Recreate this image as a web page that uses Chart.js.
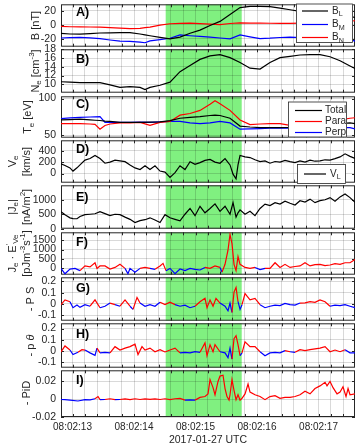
<!DOCTYPE html>
<html>
<head>
<meta charset="utf-8">
<script src="https://cdn.jsdelivr.net/npm/chart.js@4"></script>
<style>
  html, body { margin: 0; padding: 0; background: #fff; }
  #wrap { position: relative; width: 357px; height: 446px; overflow: hidden; }
  canvas { position: absolute; left: 0; }
</style>
</head>
<body>
<div id="wrap"></div>
<script>
// time in seconds after 08:02:00 UTC
const T_MIN = 12.813, T_MAX = 17.593;
const SHADE = [14.515, 15.751];
const majorSeconds = [13, 14, 15, 16, 17];
const timeLabels = ['08:02:13', '08:02:14', '08:02:15', '08:02:16', '08:02:17'];

// A) magnetic field, B) density
const tA = [12.813, 12.959, 13.122, 13.285, 13.447, 13.610, 13.772, 13.935, 14.098, 14.179, 14.260, 14.423, 14.585, 14.748, 14.911, 15.073, 15.236, 15.398, 15.561, 15.724, 15.886, 16.049, 16.211, 16.374, 16.537, 16.699, 16.862, 17.024, 17.187, 17.350, 17.512, 17.593];
const BL = [-12, -13, -13.3, -12.5, -11.6, -11.4, -11.2, -11.2, -13, -14.3, -15.5, -17.8, -20, -17.4, -12, -7.6, -1, 4.8, 14.7, 24.4, 26, 26, 25.7, 23.5, 21.3, 19, 17, 15.5, 14.5, 13.5, 12.4, 10];
const BM = [-18.7, -18.2, -17.8, -18.5, -19.6, -21.5, -23.2, -23.5, -24.5, -25.4, -22.7, -21, -19, -14.3, -15.5, -16.5, -17.5, -18.7, -20, -14.3, -17, -19.6, -19, -18, -17.4, -18, -19, -19.5, -20, -20.5, -21, -23.2];
const BN = [-2.3, -2.8, -3, -3.1, -3.2, -4, -4.8, -5.3, -5, -4, -3.2, -0.5, 1.5, 2.1, 2.3, 1.7, 1, 0.3, 1.8, 2.7, 2.5, 2.3, 2.2, 2.1, 2, 2.3, 2.8, 3.3, 4, 4.6, 5.3, 5.7];
const Ne = [10.6, 10.5, 10.4, 10.4, 10.4, 9.9, 9.3, 9.5, 9.3, 8.8, 9.3, 9.8, 10.5, 12.9, 14.3, 15.7, 16.5, 16.8, 16.1, 15, 13.7, 13.5, 15, 16.1, 16.4, 16.7, 16.8, 16.8, 16.3, 15.4, 14.2, 13.6];

// C) temperature
const tC = [12.813, 12.959, 13.122, 13.285, 13.366, 13.447, 13.528, 13.610, 13.772, 13.935, 14.098, 14.260, 14.423, 14.585, 14.748, 14.911, 15.073, 15.236, 15.317, 15.398, 15.561, 15.724, 15.886, 16.049, 16.211, 16.374, 16.537, 16.699, 16.862, 17.024, 17.187, 17.350, 17.512, 17.593];
const TeTotal = [71.2, 71.5, 72, 71, 70.6, 70.3, 69.5, 69, 67.8, 67.8, 67.8, 68, 68.5, 70, 73.3, 74.5, 75.4, 77, 77.5, 77, 73.3, 62.7, 61.5, 60.6, 60.6, 60.6, 61, 62, 63, 64, 65, 66, 67, 66];
const TePara = [66.1, 66, 66.1, 65.5, 65, 58.5, 63.6, 65.5, 67, 67, 67.8, 63.6, 67.8, 69, 77.5, 79.7, 83.9, 92.4, 97, 93, 84, 71, 64.8, 65.5, 66, 66, 63.6, 65, 67, 69, 70, 71, 73.3, 74];
const TePerp = [72.9, 73.8, 74.6, 75, 75.2, 75.4, 67.8, 67.8, 67.8, 67.8, 68, 67.8, 68.5, 69, 69, 67, 66, 67, 68, 69, 67, 58.5, 59, 59.4, 59.8, 60, 60, 60, 60.2, 60.3, 60.4, 60.5, 60.6, 59];

// D) velocity, E) current density
const tD = [12.813, 12.878, 12.959, 13.008, 13.073, 13.122, 13.203, 13.285, 13.366, 13.447, 13.528, 13.610, 13.691, 13.772, 13.854, 13.935, 14.016, 14.098, 14.179, 14.260, 14.341, 14.423, 14.504, 14.585, 14.667, 14.748, 14.829, 14.911, 14.992, 15.073, 15.154, 15.236, 15.317, 15.398, 15.480, 15.561, 15.610, 15.659, 15.691, 15.724, 15.805, 15.886, 15.967, 16.049, 16.130, 16.211, 16.293, 16.374, 16.455, 16.537, 16.618, 16.699, 16.780, 16.862, 16.943, 17.024, 17.106, 17.187, 17.268, 17.350, 17.431, 17.512, 17.593];
const VL = [169, 140, 98, 43, 100, 152, 234, 262, 316, 262, 180, 200, 234, 220, 207, 150, 98, 70, 136, 70, 136, 43, 26, -66, 16, 136, 70, 207, 160, 190, 230, 246, 200, 180, 262, 150, -11, -93, 150, 316, 290, 279, 240, 207, 220, 180, 210, 200, 230, 207, 190, 220, 200, 234, 215, 220, 240, 234, 260, 290, 344, 300, 262];
const JeMag = [590, 480, 376, 350, 344, 420, 484, 500, 516, 590, 520, 451, 500, 484, 400, 323, 215, 280, 311, 376, 300, 215, 484, 376, 323, 269, 500, 700, 450, 774, 550, 700, 860, 600, 774, 500, 900, 400, 550, 650, 500, 600, 450, 700, 850, 800, 900, 850, 950, 880, 820, 968, 920, 1022, 900, 968, 1000, 1075, 950, 1100, 1200, 1075, 913];

// F) J.E'
const tF = [12.813, 12.878, 12.959, 13.041, 13.122, 13.203, 13.285, 13.366, 13.398, 13.447, 13.528, 13.610, 13.691, 13.772, 13.854, 13.902, 13.935, 14.016, 14.098, 14.179, 14.260, 14.341, 14.423, 14.472, 14.520, 14.585, 14.667, 14.748, 14.829, 14.911, 14.992, 15.073, 15.154, 15.236, 15.317, 15.398, 15.431, 15.480, 15.528, 15.561, 15.593, 15.626, 15.659, 15.691, 15.724, 15.805, 15.886, 15.967, 16.049, 16.130, 16.211, 16.293, 16.374, 16.455, 16.537, 16.618, 16.699, 16.780, 16.862, 16.943, 17.024, 17.106, 17.187, 17.268, 17.350, 17.431, 17.512, 17.593];
const JdotE = [0, -285, -35, 0, -120, 130, 80, 300, 0, 130, 130, -35, 50, 215, 0, -285, 0, -200, 0, 50, 0, -50, 130, 265, -120, 0, -285, -35, -120, 0, -50, -85, 50, 0, 130, 50, -200, 215, 965, 1800, 1315, 215, -120, 630, 215, 50, 0, 50, -65, 0, 0, 300, 50, 215, 50, 100, 130, 300, 130, 200, 215, 150, 180, 250, 215, 300, 300, 465];

// G) -P S
const tG = [12.813, 12.878, 12.959, 13.008, 13.073, 13.122, 13.203, 13.285, 13.366, 13.447, 13.528, 13.610, 13.691, 13.772, 13.854, 13.935, 13.984, 14.049, 14.098, 14.179, 14.260, 14.341, 14.423, 14.504, 14.585, 14.667, 14.748, 14.829, 14.911, 14.992, 15.073, 15.154, 15.187, 15.236, 15.285, 15.333, 15.398, 15.480, 15.528, 15.561, 15.593, 15.626, 15.659, 15.691, 15.724, 15.756, 15.805, 15.886, 15.967, 16.049, 16.130, 16.211, 16.293, 16.374, 16.455, 16.537, 16.618, 16.699, 16.780, 16.862, 16.943, 17.024, 17.106, 17.187, 17.268, 17.350, 17.431, 17.512, 17.593];
const PS = [-0.006, 0.036, 0.02, -0.033, -0.01, -0.03, -0.006, -0.02, 0.036, -0.033, -0.02, 0.008, -0.006, -0.02, 0.036, -0.02, -0.048, 0.058, 0.008, -0.02, -0.006, -0.02, 0.016, -0.006, 0.016, -0.006, -0.02, -0.01, -0.033, -0.02, 0.02, 0.05, -0.033, 0.036, -0.02, 0.05, 0.008, -0.02, -0.06, 0.008, -0.075, 0.105, 0.147, 0.02, -0.048, -0.006, 0.092, 0.036, 0.05, -0.006, -0.033, -0.02, -0.01, -0.015, 0.005, -0.006, -0.01, 0.008, 0.01, 0.02, 0.015, 0.036, 0.02, -0.02, -0.01, -0.015, -0.006, -0.02, -0.033];

// H) -p theta
const tH = [12.813, 12.878, 12.959, 13.008, 13.089, 13.154, 13.203, 13.285, 13.366, 13.398, 13.447, 13.528, 13.610, 13.691, 13.772, 13.854, 13.935, 14.016, 14.065, 14.130, 14.179, 14.260, 14.341, 14.423, 14.504, 14.585, 14.667, 14.748, 14.829, 14.911, 14.992, 15.073, 15.154, 15.187, 15.236, 15.285, 15.317, 15.398, 15.480, 15.528, 15.561, 15.593, 15.626, 15.659, 15.691, 15.724, 15.756, 15.805, 15.886, 15.967, 16.049, 16.130, 16.211, 16.293, 16.374, 16.455, 16.537, 16.618, 16.699, 16.780, 16.862, 16.943, 17.024, 17.106, 17.187, 17.268, 17.350, 17.431, 17.512, 17.593];
const PTheta = [-0.007, 0.046, 0.01, -0.03, -0.01, 0.013, 0.01, -0.015, -0.037, 0.027, -0.015, -0.01, -0.015, 0.04, 0.01, 0.027, 0.04, 0.062, -0.03, 0.04, 0.01, 0.027, -0.005, 0.013, -0.007, 0.01, 0.027, -0.015, -0.01, -0.015, -0.005, -0.01, 0.073, -0.04, 0.057, -0.005, 0.057, -0.005, -0.015, -0.057, 0.027, -0.07, 0.11, 0.137, 0.057, -0.04, -0.015, 0.082, 0.04, 0.04, -0.005, -0.04, -0.015, -0.01, -0.015, 0.005, -0.005, -0.01, 0.013, 0.005, 0.013, 0.02, 0.027, 0.04, -0.005, 0.01, -0.005, 0.013, -0.015, -0.015];

// I) -PiD
const tI = [12.813, 12.878, 12.959, 13.089, 13.203, 13.285, 13.366, 13.415, 13.447, 13.528, 13.610, 13.691, 13.772, 13.854, 13.935, 14.016, 14.098, 14.179, 14.260, 14.341, 14.423, 14.504, 14.585, 14.667, 14.748, 14.829, 14.911, 14.992, 15.073, 15.154, 15.203, 15.236, 15.285, 15.317, 15.366, 15.398, 15.447, 15.480, 15.512, 15.545, 15.561, 15.593, 15.626, 15.659, 15.691, 15.724, 15.756, 15.805, 15.854, 15.886, 15.967, 16.049, 16.130, 16.211, 16.293, 16.374, 16.455, 16.537, 16.618, 16.699, 16.780, 16.862, 16.943, 17.024, 17.106, 17.138, 17.187, 17.236, 17.301, 17.350, 17.398, 17.447, 17.480, 17.512, 17.593];
const PiD = [-0.0003, -0.0005, -0.001, -0.002, -0.0005, -0.0008, 0.0005, 0.003, -0.0005, -0.0003, 0.0005, -0.0005, -0.0003, 0.0004, -0.0004, 0.0005, -0.0003, 0.0004, -0.0002, 0.0004, -0.0003, 0.0005, -0.0004, 0.0005, 0.001, -0.001, -0.0008, -0.001, 0.002, 0.003, 0.006, 0.022, 0.013, 0.005, 0.02, 0.026, 0.027, 0.012, 0.003, -0.001, 0.005, 0.022, 0.01, -0.0005, 0.005, -0.001, 0.001, 0.006, 0.017, 0.008, 0.005, 0.003, -0.0005, 0.003, 0.004, 0.001, 0.002, 0.002, 0.003, 0.005, 0.009, 0.006, 0.012, 0.015, 0.019, 0.015, 0.02, 0.013, 0.006, 0.008, 0.014, 0.003, 0.012, 0.005, 0.006];

// y tick labels per panel
const yTicksA = [-20, 0, 20];
const yTicksB = [10, 12, 14, 16, 18];
const yTicksC = [50, 100];
const yTicksD = [0, 200, 400];
const yTicksE = [0, 500, 1000];
const yTicksF = [0, 500, 1000, 1500];
const yTicksG = [-0.1, 0, 0.1, 0.2];
const yTicksH = [-0.1, 0, 0.1, 0.2];
const yTicksI = [-0.02, 0, 0.02];

const FONT = "'Liberation Sans', Arial, Helvetica, sans-serif";
const INK = '#262626';
const GRID = 'rgba(0,0,0,0.15)';
const GREEN = '#80f080';
const RED = '#ff0000', BLUE = '#0000ff', BLACK = '#000000';
const PAD = 10;

const pts = (t, v) => t.map((x, i) => ({ x: x, y: v[i] }));
const signColor = c => ((c.p0.parsed.y + c.p1.parsed.y) / 2 >= 0 ? RED : BLUE);

const minorTicks = [];
for (let v = 13.0; v <= T_MAX + 1e-9; v += 0.2) minorTicks.push(Math.round(v * 10) / 10);

const panels = [
  { top: 3, bottom: 48, min: -31, max: 29, ticks: yTicksA, letter: 'A)', letterY: 13,
    title: [[['B [nT]', '']]], titleX: [35.5],
    series: [{ t: tA, v: BL, color: BLACK }, { t: tA, v: BM, color: BLUE }, { t: tA, v: BN, color: RED }],
    legend: { box: [296, 3.5, 353, 43], lineX: [302, 328], textX: 332,
      rows: [{ y: 11, color: BLACK, parts: [['B', ''], ['L', 'b']] },
             { y: 24.5, color: BLUE, parts: [['B', ''], ['M', 'b']] },
             { y: 37.5, color: RED, parts: [['B', ''], ['N', 'b']] }] } },
  { top: 48, bottom: 94, min: 8.1, max: 18, ticks: yTicksB, letter: 'B)', letterY: 60,
    title: [[['N', ''], ['e', 'b'], [' [cm', ''], ['-3', 'p'], [']', '']]], titleX: [35.5],
    series: [{ t: tA, v: Ne, color: BLACK }] },
  { top: 95, bottom: 139, min: 47, max: 103, ticks: yTicksC, letter: 'C)', letterY: 105,
    title: [[['T', ''], ['e', 'b'], [' [eV]', '']]], titleX: [28],
    series: [{ t: tC, v: TeTotal, color: BLACK }, { t: tC, v: TePara, color: RED }, { t: tC, v: TePerp, color: BLUE }],
    legend: { box: [288, 101.5, 347, 137.5], lineX: [295, 322], textX: 325,
      rows: [{ y: 110.5, color: BLACK, parts: [['Total', '']] },
             { y: 121.5, color: RED, parts: [['Para', '']] },
             { y: 132.5, color: BLUE, parts: [['Perp', '']] }] } },
  { top: 139, bottom: 184, min: -160, max: 580, ticks: yTicksD, letter: 'D)', letterY: 150,
    title: [[['V', ''], ['e', 'b']], [['[km/s]', '']]], titleX: [12.5, 27],
    series: [{ t: tD, v: VL, color: BLACK }],
    legend: { box: [297, 164, 346, 184], lineX: [304, 326], textX: 330,
      rows: [{ y: 174, color: BLACK, parts: [['V', ''], ['L', 'b']] }] } },
  { top: 184, bottom: 230, min: 0, max: 1500, ticks: yTicksE, letter: 'E)', letterY: 198,
    title: [[['|J', ''], ['e', 'b'], ['|', '']], [['[nA/m', ''], ['2', 'p'], [']', '']]], titleX: [12.5, 27],
    series: [{ t: tD, v: JeMag, color: BLACK }] },
  { top: 231, bottom: 276, min: -335, max: 1915, ticks: yTicksF, letter: 'F)', letterY: 243,
    title: [[['J', ''], ['e', 'b'], [' \u00b7 E', ''], ["'", 'p'], ['Ve', 'b']], [['[pJm', ''], ['-3', 'p'], ['s', ''], ['-1', 'p'], [']', '']]], titleX: [12.5, 27],
    series: [{ t: tF, v: JdotE, sign: true }] },
  { top: 276, bottom: 322, min: -0.148, max: 0.236, ticks: yTicksG, letter: 'G)', letterY: 288.5,
    title: [[['- P S', '']]], titleX: [31],
    series: [{ t: tG, v: PS, sign: true }] },
  { top: 322, bottom: 369, min: -0.146, max: 0.246, ticks: yTicksH, letter: 'H)', letterY: 334.5,
    title: [[['- p ', ''], ['\u03b8', 'i']]], titleX: [31],
    series: [{ t: tH, v: PTheta, sign: true }] },
  { top: 369, bottom: 417, min: -0.02, max: 0.0325, ticks: yTicksI, letter: 'I)', letterY: 381,
    title: [[['- PiD', '']]], titleX: [27],
    series: [{ t: tI, v: PiD, sign: true }] }
];

function drawRich(ctx, parts, x, y, size, align, rotate) {
  const fontOf = m => (m === 'i' ? 'italic ' : '') + ((m === 'b' || m === 'p') ? size * 0.72 : size) + 'px ' + FONT;
  ctx.save();
  ctx.translate(x, y);
  if (rotate) ctx.rotate(-Math.PI / 2);
  ctx.textBaseline = 'middle';
  ctx.textAlign = 'left';
  ctx.fillStyle = INK;
  let w = 0;
  for (const [s, m] of parts) { ctx.font = fontOf(m); w += ctx.measureText(s).width; }
  let cx = align === 'center' ? -w / 2 : 0;
  for (const [s, m] of parts) {
    ctx.font = fontOf(m);
    const dy = m === 'b' ? size * 0.32 : (m === 'p' ? -size * 0.36 : 0);
    ctx.fillText(s, cx, dy);
    cx += ctx.measureText(s).width;
  }
  ctx.restore();
}

function decoPlugin(p, off) {
  return {
    id: 'deco',
    beforeDraw(chart) {
      const { ctx, chartArea: a, scales: { x } } = chart;
      const x0 = x.getPixelForValue(SHADE[0]), x1 = x.getPixelForValue(SHADE[1]);
      ctx.save();
      ctx.fillStyle = GREEN;
      ctx.fillRect(x0, a.top, x1 - x0, a.bottom - a.top);
      ctx.restore();
    },
    beforeDatasetsDraw(chart) {
      const { ctx, chartArea: a, scales: { x, y } } = chart;
      ctx.save();
      ctx.strokeStyle = INK;
      ctx.lineWidth = 1;
      ctx.beginPath();
      for (const t of x.ticks) {
        const px = Math.round(x.getPixelForValue(t.value)) + 0.5;
        ctx.moveTo(px, a.top); ctx.lineTo(px, a.top + 3);
        ctx.moveTo(px, a.bottom); ctx.lineTo(px, a.bottom - 3);
      }
      for (const t of y.ticks) {
        const py = Math.round(y.getPixelForValue(t.value)) + 0.5;
        ctx.moveTo(a.left, py); ctx.lineTo(a.left + 3, py);
        ctx.moveTo(a.right, py); ctx.lineTo(a.right - 3, py);
      }
      ctx.stroke();
      ctx.strokeRect(a.left + 0.5, a.top + 0.5, a.right - a.left - 1, a.bottom - a.top - 1);
      ctx.restore();
    },
    afterDatasetsDraw(chart) {
      const ctx = chart.ctx;
      ctx.save();
      if (p.legend) {
        const L = p.legend;
        ctx.fillStyle = '#fff';
        ctx.fillRect(L.box[0], L.box[1] - off, L.box[2] - L.box[0], L.box[3] - L.box[1]);
        ctx.strokeStyle = INK;
        ctx.lineWidth = 0.8;
        ctx.strokeRect(L.box[0] + 0.5, L.box[1] - off + 0.5, L.box[2] - L.box[0] - 1, L.box[3] - L.box[1] - 1);
        for (const r of L.rows) {
          ctx.strokeStyle = r.color;
          ctx.lineWidth = 1.2;
          ctx.beginPath();
          ctx.moveTo(L.lineX[0], r.y - off);
          ctx.lineTo(L.lineX[1], r.y - off);
          ctx.stroke();
          drawRich(ctx, r.parts, L.textX, r.y - off, 10, 'left', false);
        }
      }
      ctx.fillStyle = '#000';
      ctx.font = 'bold 12.5px ' + FONT;
      ctx.textBaseline = 'middle';
      ctx.textAlign = 'left';
      ctx.fillText(p.letter, 76, p.letterY - off);
      ctx.restore();
    },
    afterDraw(chart) {
      const ctx = chart.ctx;
      const cy = (p.top + p.bottom) / 2 - off;
      p.title.forEach((line, i) => drawRich(ctx, line, p.titleX[i], cy, 11, 'center', true));
    }
  };
}

const wrap = document.getElementById('wrap');

panels.forEach((p, idx) => {
  const last = idx === panels.length - 1;
  const off = p.top - PAD;
  const h = last ? 446 - off : (p.bottom - p.top) + 2 * PAD;
  const c = document.createElement('canvas');
  c.width = 357;
  c.height = h;
  c.style.top = off + 'px';
  c.style.width = '357px';
  c.style.height = h + 'px';
  wrap.appendChild(c);

  const datasets = p.series.map(s => {
    const ds = {
      data: pts(s.t, s.v),
      borderColor: s.sign ? RED : s.color,
      borderWidth: 1.2,
      pointRadius: 0,
      tension: 0,
      fill: false
    };
    if (s.sign) ds.segment = { borderColor: signColor };
    return ds;
  });

  new Chart(c, {
    type: 'line',
    data: { datasets: datasets },
    options: {
      responsive: false,
      animation: false,
      events: [],
      layout: { padding: { top: PAD, bottom: last ? 0 : PAD, left: 0, right: 2 } },
      plugins: { legend: { display: false }, tooltip: { enabled: false } },
      scales: {
        x: {
          type: 'linear',
          min: T_MIN,
          max: T_MAX,
          afterBuildTicks: s => { s.ticks = minorTicks.map(v => ({ value: v })); },
          afterFit: s => { s.height = last ? 29 : 0; },
          grid: { color: GRID, drawTicks: false },
          border: { display: false },
          ticks: {
            display: last,
            padding: 4,
            autoSkip: false,
            maxRotation: 0,
            color: INK,
            font: { family: FONT, size: 10 },
            callback: v => {
              const i = majorSeconds.indexOf(Math.round(v * 10) / 10);
              return i >= 0 ? timeLabels[i] : '';
            }
          },
          title: {
            display: last,
            text: '2017-01-27 UTC',
            color: INK,
            padding: 0,
            font: { family: FONT, size: 10.5 }
          }
        },
        y: {
          min: p.min,
          max: p.max,
          afterBuildTicks: s => { s.ticks = p.ticks.map(v => ({ value: v })); },
          afterFit: s => { s.width = 61; },
          grid: { color: GRID, drawTicks: false },
          border: { display: false },
          ticks: {
            padding: 5,
            autoSkip: false,
            color: INK,
            font: { family: FONT, size: 10.5 },
            callback: v => String(v)
          }
        }
      }
    },
    plugins: [decoPlugin(p, off)]
  });
});
</script>
</body>
</html>
